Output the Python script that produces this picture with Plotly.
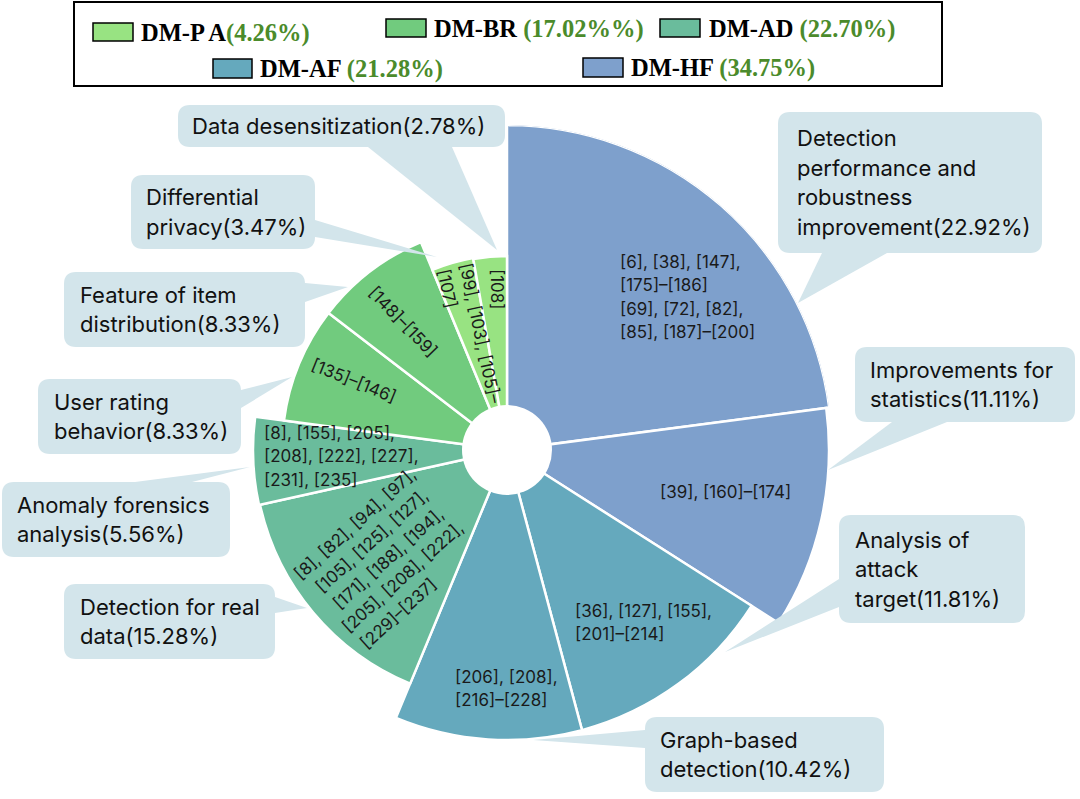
import textwrap
import plotly.graph_objects as go

W, H = 1080, 799
CX, CY = 507, 450      # centre of the rose in px
RMAX = 325             # radius of the polar area in px
HOLE = 45              # white circle in the middle

# ---------------- data ----------------
topics = [
    "Detection performance and robustness improvement",
    "Improvements for statistics",
    "Analysis of attack target",
    "Graph-based detection",
    "Detection for real data",
    "Anomaly forensics analysis",
    "User rating behavior",
    "Feature of item distribution",
    "Differential privacy",
    "Data desensitization",
]
shares = [22.92, 11.11, 11.81, 10.42, 15.28, 5.56, 8.33, 8.33, 3.47, 2.78]
radius = [325, 322, 290, 290, 253, 254, 225, 225, 195, 194]
topic_group = ["DM-HF", "DM-HF", "DM-AF", "DM-AF", "DM-AD",
               "DM-AD", "DM-BR", "DM-BR", "DM-PA", "DM-PA"]
refs = [
    "[6], [38], [147],\n[175]–[186]\n[69], [72], [82],\n[85], [187]–[200]",
    "[39], [160]–[174]",
    "[36], [127], [155],\n[201]–[214]",
    "[206], [208],\n[216]–[228]",
    "[8], [82], [94], [97],\n[105], [125], [127],\n[171], [188], [194],\n[205], [208], [222],\n[229]–[237]",
    "[8], [155], [205],\n[208], [222], [227],\n[231], [235]",
    "[135]–[146]",
    "[148]–[159]",
    "[99], [103], [105]–\n[107]",
    "[108]",
]

group_keys = ["DM-PA", "DM-BR", "DM-AD", "DM-AF", "DM-HF"]
group_names = ["DM-P A", "DM-BR", "DM-AD", "DM-AF", "DM-HF"]
group_shares = ["4.26%", "17.02%%", "22.70%", "21.28%", "34.75%"]
group_colors = {
    "DM-PA": "#98E382",
    "DM-BR": "#71CB7E",
    "DM-AD": "#6ABC9C",
    "DM-AF": "#65A9BD",
    "DM-HF": "#7EA0CC",
}

# ---------------- layout helpers ----------------
CALLOUT_FILL = "#D3E5EB"
FONT = "Inter"

# box (x0, y0, x1, y1), pointer base points, pointer tip, wrap width
callouts = [
    dict(box=(778, 112, 1042, 253), base=((822, 253), (887, 253)), tip=(798, 303), wrap=16, pad=17),
    dict(box=(855, 347, 1075, 422), base=((892, 422), (947, 422)), tip=(828, 470), wrap=16, pad=13),
    dict(box=(839, 515, 1025, 623), base=((839, 579), (839, 607)), tip=(725, 652), wrap=11, pad=14),
    dict(box=(645, 717, 884, 792), base=((645, 730), (645, 748)), tip=(533, 740), wrap=12, pad=13),
    dict(box=(64, 584, 275, 659), base=((275, 597), (275, 613)), tip=(307, 608), wrap=18, pad=14),
    dict(box=(2, 482, 230, 557), base=((135, 482), (192, 482)), tip=(250, 467), wrap=17, pad=13),
    dict(box=(38, 379, 241, 454), base=((241, 390), (241, 408)), tip=(292, 377), wrap=12, pad=14),
    dict(box=(64, 272, 305, 347), base=((305, 283), (305, 302)), tip=(348, 287), wrap=15, pad=14),
    dict(box=(131, 175, 315, 249), base=((315, 220), (315, 237)), tip=(437, 257), wrap=12, pad=13),
    dict(box=(178, 105, 505, 147), base=((368, 147), (452, 147)), tip=(497, 250), wrap=30, pad=12),
]

# reference labels inside the wedges: angle 0 -> left x / first line y,
# rotated -> centre of every line
ref_pos = [
    dict(angle=0, left=618, top=262),
    dict(angle=0, left=658, top=492),
    dict(angle=0, left=573, top=611),
    dict(angle=0, left=453, top=677),
    dict(angle=-42, centres=[(355, 524), (372, 541), (388, 559), (403, 577), (398, 614)]),
    dict(angle=0, left=262, top=433),
    dict(angle=22, centres=[(354, 381)]),
    dict(angle=46, centres=[(403, 322)]),
    dict(angle=78, centres=[(480, 333), (447, 288)]),
    dict(angle=90, centres=[(497, 289)]),
]
REF_LINE = 23.3

# legend swatches (x0, y0, x1, y1) and text start
legend_pos = [
    dict(sw=(93, 23, 133, 41), tx=139, ty=33, gap=""),
    dict(sw=(386, 19, 426, 37), tx=432, ty=29, gap=" "),
    dict(sw=(660, 19, 700, 37), tx=707, ty=29, gap=" "),
    dict(sw=(213, 59, 252, 78), tx=258, ty=69, gap=" "),
    dict(sw=(583, 58, 623, 77), tx=629, ty=68, gap=" "),
]


def rounded_rect(x0, y0, x1, y1, r=12):
    return (f"M{x0 + r},{y0} L{x1 - r},{y0} Q{x1},{y0} {x1},{y0 + r} "
            f"L{x1},{y1 - r} Q{x1},{y1} {x1 - r},{y1} L{x0 + r},{y1} "
            f"Q{x0},{y1} {x0},{y1 - r} L{x0},{y0 + r} Q{x0},{y0} {x0 + r},{y0} Z")


# ---------------- figure ----------------
total = sum(shares)
widths = [s / total * 360 for s in shares]
theta = []
acc = 0
for w in widths:
    theta.append(acc + w / 2)
    acc += w

fig = go.Figure()

fig.add_trace(go.Barpolar(
    r=radius,
    theta=theta,
    width=widths,
    marker=dict(color=[group_colors[g] for g in topic_group],
                line=dict(color="white", width=2.5)),
    customdata=shares,
    text=topics,
    hovertemplate="%{text}: %{customdata:.2f}%<extra></extra>",
    showlegend=False,
))

# invisible cartesian layer in pixel units, used for callouts and legend
fig.add_trace(go.Scatter(x=[0], y=[0], mode="markers", marker=dict(opacity=0),
                         hoverinfo="skip", showlegend=False))

shapes = []
annotations = []

# white hole
shapes.append(dict(type="circle", xref="x", yref="y",
                   x0=CX - HOLE, x1=CX + HOLE, y0=CY - HOLE, y1=CY + HOLE,
                   fillcolor="white", line=dict(width=0)))

# callouts
for topic, share, c in zip(topics, shares, callouts):
    x0, y0, x1, y1 = c["box"]
    (bx1, by1), (bx2, by2) = c["base"]
    tx, ty = c["tip"]
    shapes.append(dict(type="path", xref="x", yref="y", path=rounded_rect(x0, y0, x1, y1),
                       fillcolor=CALLOUT_FILL, line=dict(width=0)))
    shapes.append(dict(type="path", xref="x", yref="y",
                       path=f"M{bx1},{by1} L{tx},{ty} L{bx2},{by2} Z",
                       fillcolor=CALLOUT_FILL, line=dict(width=0)))
    lines = textwrap.wrap(f"{topic}({share:.2f}%)", width=c["wrap"],
                          break_on_hyphens=False, break_long_words=False)
    mid = (y0 + y1) / 2
    n = len(lines)
    for i, ln in enumerate(lines):
        annotations.append(dict(
            xref="x", yref="y", x=x0 + c["pad"], y=mid + (i - (n - 1) / 2) * 29.5,
            text=ln, showarrow=False, xanchor="left", yanchor="middle",
            font=dict(family=FONT, size=22, color="#111111"),
        ))

# reference labels inside wedges
for txt, p in zip(refs, ref_pos):
    lines = txt.split("\n")
    if p["angle"] == 0:
        for i, ln in enumerate(lines):
            annotations.append(dict(
                xref="x", yref="y", x=p["left"], y=p["top"] + i * REF_LINE,
                text=ln, showarrow=False, xanchor="left", yanchor="middle",
                font=dict(family=FONT, size=17, color="#1A1A1A"),
            ))
    else:
        for ln, (x, y) in zip(lines, p["centres"]):
            annotations.append(dict(
                xref="x", yref="y", x=x, y=y, text=ln, showarrow=False,
                xanchor="center", yanchor="middle", textangle=p["angle"],
                font=dict(family=FONT, size=17, color="#1A1A1A"),
            ))

# legend box
shapes.append(dict(type="rect", xref="x", yref="y", x0=74, y0=2, x1=942, y1=86,
                   line=dict(color="black", width=2), fillcolor="rgba(0,0,0,0)"))
for key, name, share, lp in zip(group_keys, group_names, group_shares, legend_pos):
    sx0, sy0, sx1, sy1 = lp["sw"]
    shapes.append(dict(type="rect", xref="x", yref="y", x0=sx0, y0=sy0, x1=sx1, y1=sy1,
                       fillcolor=group_colors[key], line=dict(color="black", width=1.5)))
    annotations.append(dict(
        xref="x", yref="y", x=lp["tx"], y=lp["ty"], showarrow=False,
        xanchor="left", yanchor="middle",
        text=f"<b>{name}{lp['gap']}<span style='color:#4B8B2B'>({share})</span></b>",
        font=dict(family="Liberation Serif", size=24.5, color="black"),
    ))

fig.update_layout(
    width=W,
    height=H,
    margin=dict(l=0, r=0, t=0, b=0),
    paper_bgcolor="white",
    plot_bgcolor="white",
    showlegend=False,
    xaxis=dict(range=[0, W], domain=[0, 1], visible=False, fixedrange=True),
    yaxis=dict(range=[H, 0], domain=[0, 1], visible=False, fixedrange=True),
    polar=dict(
        domain=dict(x=[(CX - RMAX) / W, (CX + RMAX) / W],
                    y=[(H - CY - RMAX) / H, (H - CY + RMAX) / H]),
        bgcolor="rgba(0,0,0,0)",
        radialaxis=dict(range=[0, RMAX], visible=False, showgrid=False),
        angularaxis=dict(rotation=90, direction="clockwise", visible=False, showgrid=False),
    ),
    shapes=shapes,
    annotations=annotations,
)

# the page body has a default 8px margin; drop it so the figure sits at (0, 0)
fig.write_html("out.html", config={"displayModeBar": False},
               post_script="document.body.style.margin='0';")
